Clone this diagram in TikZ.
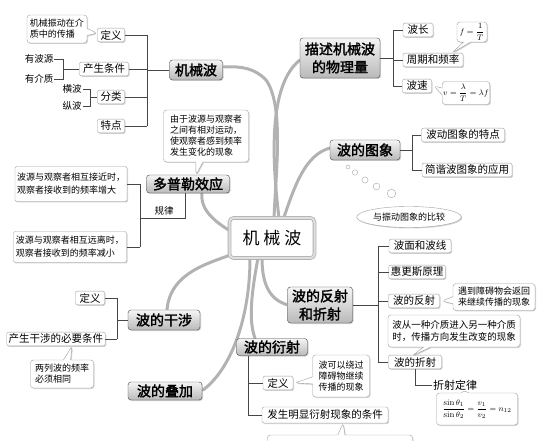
\documentclass[tikz,border=0pt]{standalone}
\usepackage{amsmath}
\usepackage{fontspec}
\newfontfamily\cjk{Noto Sans CJK SC}
\newfontfamily\cjkb{Noto Sans CJK SC}[FakeBold=2]
\usetikzlibrary{shapes.callouts,shapes.geometric,shadows}
\begin{document}
\begin{tikzpicture}[x=1pt,y=-1pt,
  shd/.style={drop shadow={shadow xshift=1pt,shadow yshift=-1pt,opacity=0.35}},
  sbox/.style={draw=gray!75, rounded corners=2pt, fill=white, inner sep=2pt,
    font=\cjk\fontsize{10.5}{12}\selectfont, shd},
  ttl/.style={draw=gray!50!black, rounded corners=3pt, top color=gray!8, bottom color=gray!55,
    inner xsep=4pt, inner ysep=2pt, font=\cjkb\fontsize{14}{18}\selectfont, align=center, shd},
  cbox/.style={rectangle callout, draw=gray!75, fill=white, rounded corners=3pt, inner sep=3pt,
    font=\cjk\fontsize{9}{11}\selectfont, shd},
  plain/.style={font=\cjk\fontsize{9.5}{11}\selectfont, inner sep=1pt},
  conn/.style={draw=gray!55!black, line width=0.5pt},
  branch/.style={draw=gray!60, line width=3pt, line cap=round}
]
\useasboundingbox (0,0) rectangle (547,441);

% thick branches
\draw[branch] (274,218) .. controls (276,170) and (284,105) .. (266,80) .. controls (255,68) and (240,66) .. (224,67);
\draw[branch] (279,218) .. controls (272,160) and (268,85) .. (300,60);
\draw[branch] (283,220) .. controls (295,185) and (305,155) .. (330,148);
\draw[branch] (232,232) .. controls (215,222) and (200,210) .. (202,193);
\draw[branch] (235,253) .. controls (215,262) and (170,270) .. (167,310);
\draw[branch] (250,258) .. controls (250,320) and (230,370) .. (203,390);
\draw[branch] (258,258) .. controls (252,290) and (248,320) .. (255,338);
\draw[branch] (262,258) .. controls (262,285) and (270,300) .. (288,305);

% center
\node[draw=gray!60, double=gray!25, double distance=2pt, line width=0.8pt, rounded corners=4pt,
  fill=white, minimum width=85pt, minimum height=40pt, font=\cjk\fontsize{17}{20}\selectfont, shd]
  (c0) at (272,238) {机\hspace{4pt}械\hspace{4pt}波};

% ---------- top-left: 机械波
\node[ttl, minimum width=53pt, minimum height=20pt] (t1) at (196,70) {机械波};
\node[sbox, minimum width=27pt] (a1) at (111,35) {定义};
\node[sbox, minimum width=49pt] (a2) at (104,69) {产生条件};
\node[sbox, minimum width=27pt] (a3) at (111,97) {分类};
\node[sbox, minimum width=27pt] (a4) at (111,126) {特点};
\node[cbox, align=left, minimum width=59pt, minimum height=28pt, callout absolute pointer={(97,33)}] (c1) at (57,29) {机械振动在介\\质中的传播};
\node[plain] (y1) at (39,59) {有波源};
\node[plain] (y2) at (39,79) {有介质};
\node[plain] (y3) at (72,89) {横波};
\node[plain] (y4) at (72,106) {纵波};
\coordinate (bA) at (147,0);
\coordinate (k1) at (63,0);
\coordinate (k2) at (90,0);
\draw[conn] (a1.east) -- (a1.east -| bA);
\draw[conn] (a2.east) -- (a2.east -| bA);
\draw[conn] (a3.east) -- (a3.east -| bA);
\draw[conn] (a4.east) -- (a4.east -| bA);
\draw[conn] (a1.east -| bA) -- (a4.east -| bA);
\draw[conn] (t1.west) -- (t1.west -| bA);
\draw[conn] (y1.east) -- (y1.east -| k1) -- (y2.east -| k1) -- (y2.east);
\draw[conn] (a2.west) -- (a2.west -| k1);
\draw[conn] (y3.east) -- (y3.east -| k2) -- (y4.east -| k2) -- (y4.east);
\draw[conn] (a3.west) -- (a3.west -| k2);

% ---------- top-right: 描述机械波的物理量
\node[ttl, minimum width=80pt, minimum height=40pt] (t2) at (340,58) {描述机械波\\的物理量};
\node[sbox, minimum width=30pt] (b1) at (418,30) {波长};
\node[sbox, minimum width=60pt] (b2) at (433,60) {周期和频率};
\node[sbox, minimum width=29pt] (b3) at (417,86) {波速};
\node[cbox, minimum width=30pt, minimum height=20pt, inner sep=1pt, font=\fontsize{8}{10}\selectfont, callout absolute pointer={(452,53)}] (c2) at (472,32) {$f=\dfrac{1}{T}$};
\node[cbox, minimum width=47pt, minimum height=23pt, inner sep=1pt, font=\fontsize{8}{10}\selectfont, callout absolute pointer={(434,86)}] (c3) at (466,93) {$v=\dfrac{\lambda}{T}=\lambda f$};
\coordinate (bB) at (393,0);
\draw[conn] (b1.west) -- (b1.west -| bB);
\draw[conn] (b2.west) -- (b2.west -| bB);
\draw[conn] (b3.west) -- (b3.west -| bB);
\draw[conn] (b1.west -| bB) -- (b3.west -| bB);
\draw[conn] (t2.east) -- (t2.east -| bB);

% ---------- 波的图象
\node[ttl, minimum width=70pt, minimum height=20pt] (t3) at (365,150) {波的图象};
\node[sbox, minimum width=83pt] (d1) at (463,135) {波动图象的特点};
\node[sbox, minimum width=90pt] (d2) at (467,170) {简谐波图象的应用};
\coordinate (bC) at (412,0);
\draw[conn] (d1.west) -- (d1.west -| bC);
\draw[conn] (d2.west) -- (d2.west -| bC);
\draw[conn] (d1.west -| bC) -- (d2.west -| bC);
\draw[conn] (t3.east) -- (t3.east -| bC);
\foreach \px/\py/\r in {348/167/2, 355/172.5/2.7, 365/180/3.1, 376.5/186.5/3.4, 391.5/193.5/4.3}
  \draw[gray!70, fill=white] (\px,\py) circle[radius=\r pt];
\node[ellipse, draw=gray!75, fill=white, minimum width=95pt, minimum height=21pt, inner sep=1pt,
  font=\cjk\fontsize{9}{11}\selectfont, shd] (e1) at (409,217) {与振动图象的比较};

% ---------- 波的反射和折射
\node[ttl, minimum width=65pt, minimum height=36pt] (t4) at (320,305) {波的反射\\和折射};
\node[sbox, minimum width=62pt] (f1) at (420,246) {波面和波线};
\node[sbox, minimum width=56pt] (f2) at (417,272) {惠更斯原理};
\node[sbox, minimum width=51pt] (f3) at (414,301) {波的反射};
\node[sbox, minimum width=53pt] (f4) at (415,362) {波的折射};
\node[cbox, align=left, minimum width=82pt, minimum height=27pt, callout absolute pointer={(442,301)}] (c4) at (494,297) {遇到障碍物会返回\\来继续传播的现象};
\node[cbox, align=left, font=\cjk\fontsize{9.5}{12}\selectfont, minimum width=132pt, minimum height=32pt, callout absolute pointer={(412,356)}] (c5) at (454,331) {波从一种介质进入另一种介质\\时，传播方向发生改变的现象};
\node[plain, font=\cjk\fontsize{11}{12}\selectfont] (zs) at (455,385) {折射定律};
\node[cbox, minimum width=81pt, minimum height=32pt, inner sep=1pt, font=\fontsize{8.5}{10}\selectfont, callout absolute pointer={(463,390)}] (c6) at (477,409) {$\dfrac{\sin\theta_1}{\sin\theta_2}=\dfrac{v_1}{v_2}=n_{12}$};
\coordinate (bD) at (378,0);
\draw[conn] (f1.west) -- (f1.west -| bD);
\draw[conn] (f2.west) -- (f2.west -| bD);
\draw[conn] (f3.west) -- (f3.west -| bD);
\draw[conn] (f4.west) -- (f4.west -| bD);
\draw[conn] (f1.west -| bD) -- (f4.west -| bD);
\draw[conn] (t4.east) -- (t4.east -| bD);
\draw[conn] (f4.south) |- (zs.west);

% ---------- 波的衍射
\node[ttl, minimum width=71pt, minimum height=17pt] (t5) at (272,347) {波的衍射};
\node[sbox, minimum width=30pt] (g1) at (278,383) {定义};
\node[sbox, minimum width=126pt, minimum height=16pt] (g2) at (325,415) {发生明显衍射现象的条件};
\node[cbox, align=center, minimum width=57pt, minimum height=42pt, callout absolute pointer={(295,383)}] (c7) at (341,376) {波可以绕过\\障碍物继续\\传播的现象};
\node[cbox, minimum width=145pt, minimum height=22pt, callout absolute pointer={(343,423)}] (c8) at (340,446) {};
\coordinate (bE) at (248,0);
\draw[conn] (t5.south -| bE) -- (g2.west -| bE) -- (g2.west);
\draw[conn] (g1.west -| bE) -- (g1.west);

% ---------- 波的干涉 / 叠加
\node[ttl, minimum width=72pt, minimum height=20pt] (t6) at (164,320) {波的干涉};
\node[sbox, minimum width=29pt] (h1) at (90,298) {定义};
\node[sbox, minimum width=98pt, minimum height=13pt] (h2) at (56,339) {产生干涉的必要条件};
\node[cbox, align=left, minimum width=63pt, minimum height=28pt, callout absolute pointer={(72,346)}] (c9) at (62,374) {两列波的频率\\必须相同};
\node[ttl, minimum width=74pt, minimum height=18pt] (t7) at (165,391) {波的叠加};
\coordinate (bF) at (117,0);
\draw[conn] (h1.east) -- (h1.east -| bF);
\draw[conn] (h2.east) -- (h2.east -| bF);
\draw[conn] (h1.east -| bF) -- (h2.east -| bF);
\draw[conn] (t6.west) -- (t6.west -| bF);

% ---------- 多普勒效应
\node[ttl, minimum width=83pt, minimum height=18pt] (t8) at (188,184) {多普勒效应};
\node[cbox, align=left, minimum width=85pt, minimum height=52pt, callout absolute pointer={(196,175)}] (c10) at (206,136) {由于波源与观察者\\之间有相对运动，\\使观察者感到频率\\发生变化的现象};
\node[sbox, align=left, font=\cjk\fontsize{9}{13}\selectfont, minimum width=112pt, minimum height=35pt] (i1) at (71,184) {波源与观察者相互接近时，\\观察者接收到的频率增大};
\node[sbox, align=left, font=\cjk\fontsize{9}{13}\selectfont, minimum width=113pt, minimum height=31pt] (i2) at (70,247) {波源与观察者相互远离时，\\观察者接收到的频率减小};
\node[plain] (gl) at (164,211) {规律};
\coordinate (bG) at (140,0);
\coordinate (dp) at (185,218);
\draw[conn] (i1.east) -- (i1.east -| bG);
\draw[conn] (i2.east) -- (i2.east -| bG);
\draw[conn] (i1.east -| bG) -- (i2.east -| bG);
\draw[conn] (t8.south -| dp) -- (dp) -- (dp -| bG);
\end{tikzpicture}
\end{document}
